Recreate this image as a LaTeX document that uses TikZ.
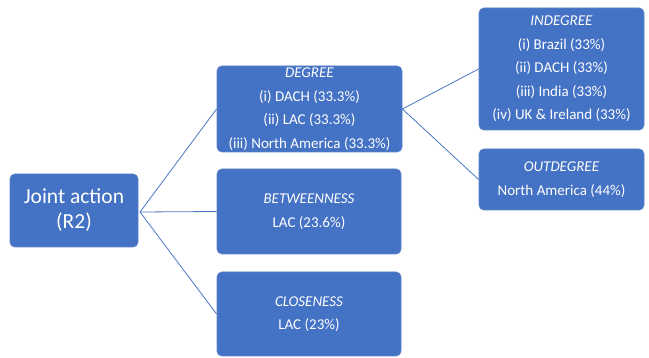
\documentclass[tikz,border=0pt]{standalone}
\usepackage{fontspec}
\setmainfont{Carlito}
\definecolor{boxblue}{HTML}{4472C4}
\definecolor{edgeblue}{HTML}{5B82C8}
\definecolor{lineblue}{HTML}{4A76C2}
\begin{document}
\begin{tikzpicture}[x=1pt,y=-1pt,
  box/.style={draw=edgeblue, line width=0.8pt, fill=boxblue, rounded corners=5pt, text=white, align=center, inner sep=0pt, font=\fontsize{15}{23.5}\selectfont},
  conn/.style={draw=lineblue, line width=0.8pt}]
\useasboundingbox (0,0) rectangle (649,358);
\node[box, minimum width=128pt, minimum height=73pt, font=\fontsize{21.5}{25}\selectfont] (root) at (74,210.5) {Joint action\\(R2)};
\node[box, minimum width=185pt, minimum height=86pt] (deg) at (309.5,109) {\textit{DEGREE}\\(i) DACH (33.3\%)\\(ii) LAC (33.3\%)\\(iii) North America (33.3\%)};
\node[box, minimum width=184pt, minimum height=85pt] (bet) at (309,211.5) {\textit{BETWEENNESS}\\LAC (23.6\%)};
\node[box, minimum width=184pt, minimum height=84pt] (clo) at (309,314) {\textit{CLOSENESS}\\LAC (23\%)};
\node[box, minimum width=165pt, minimum height=122pt] (ind) at (561.5,69) {\textit{INDEGREE}\\(i) Brazil (33\%)\\(ii) DACH (33\%)\\(iii) India (33\%)\\(iv) UK \& Ireland (33\%)};
\node[box, minimum width=165pt, minimum height=61pt] (out) at (561.5,179.5) {\textit{OUTDEGREE}\\North America (44\%)};
\coordinate (rootout) at (140,212);
\draw[conn] (rootout) -- (deg.west);
\draw[conn] (rootout) -- (bet.west);
\draw[conn] (rootout) -- (clo.west);
\draw[conn] (deg.east) -- (ind.west);
\draw[conn] (deg.east) -- (out.west);
\end{tikzpicture}
\end{document}
